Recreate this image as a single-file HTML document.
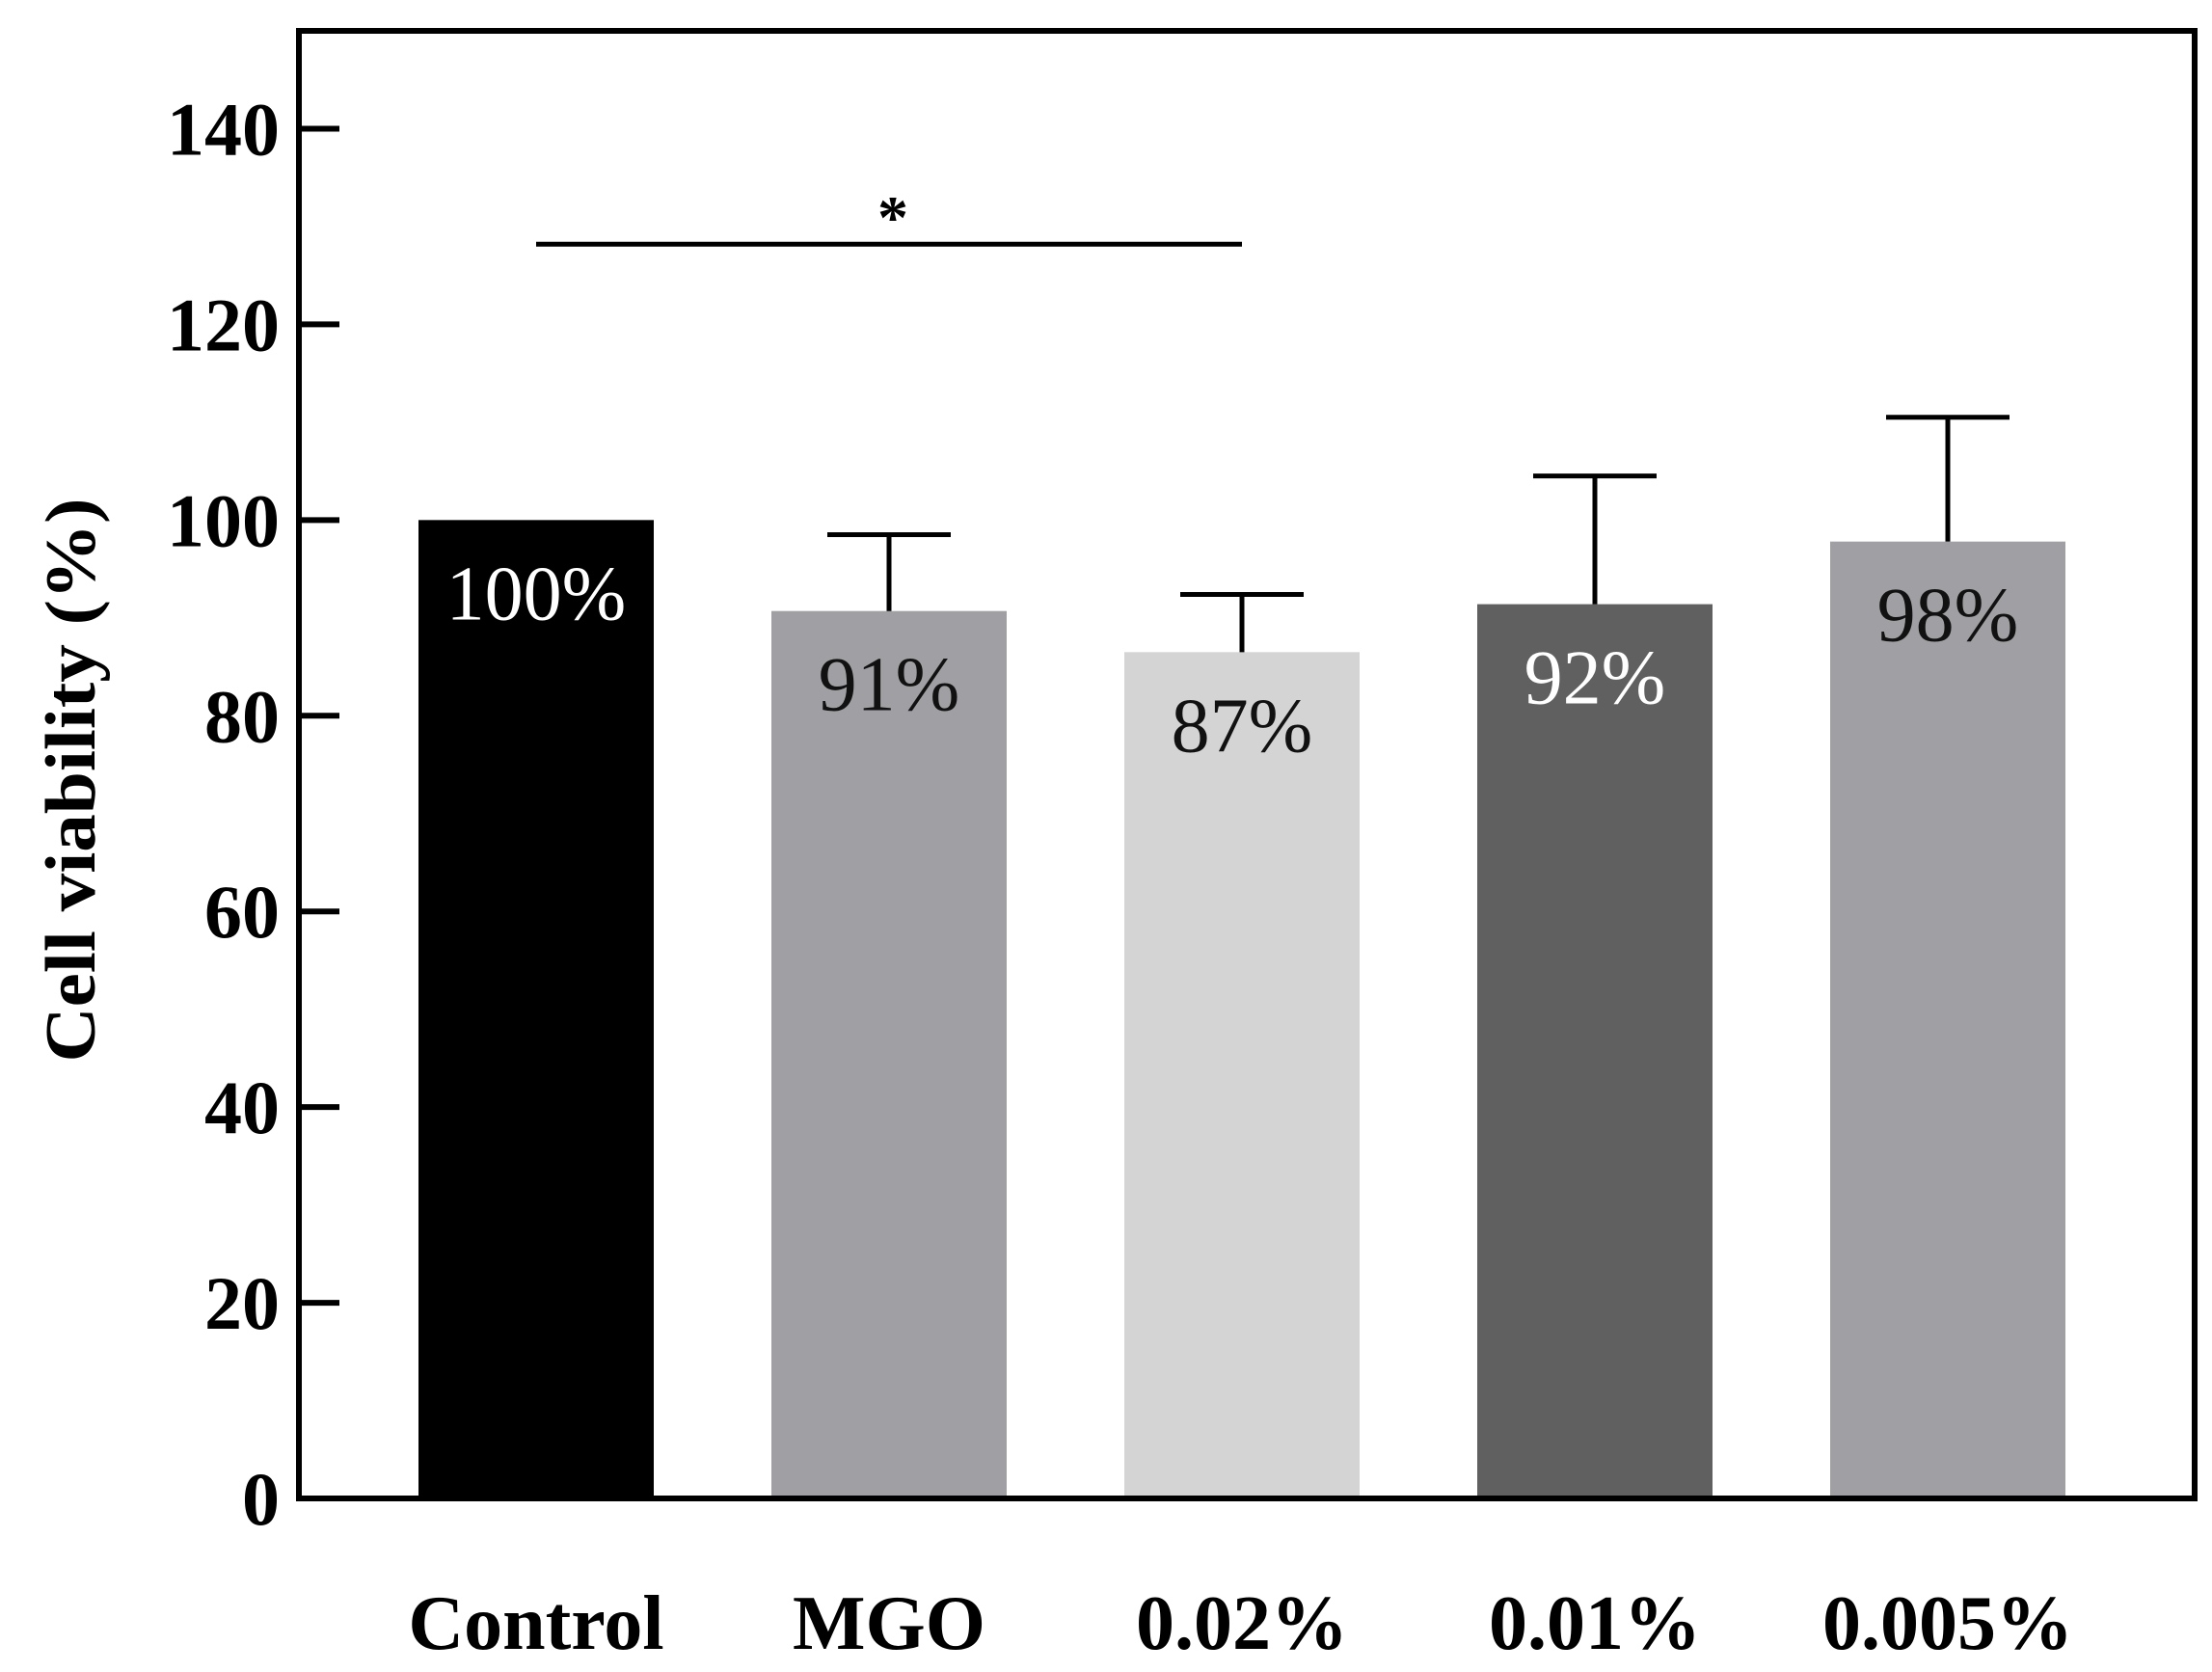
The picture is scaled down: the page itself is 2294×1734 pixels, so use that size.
<!DOCTYPE html>
<html><head><meta charset="utf-8"><style>
html,body{margin:0;padding:0;background:#fff;}
svg{display:block;font-family:"Liberation Serif","Times New Roman",serif;}
</style></head><body>
<svg id="chart" width="2294" height="1734" viewBox="0 0 2294 1734" xmlns="http://www.w3.org/2000/svg">
<rect x="0" y="0" width="2294" height="1734" fill="#fff"/>
<g id="bars"></g>
<g id="errs"></g>
<g id="yaxis"></g>
<g id="xaxis"></g>
<rect x="310" y="32" width="1966" height="1522" fill="none" stroke="#000" stroke-width="6"/>
<text transform="translate(98,809) rotate(-90)" text-anchor="middle" font-weight="bold" font-size="74" textLength="585" lengthAdjust="spacingAndGlyphs">Cell viability (%)</text>
<g id="sig"></g>
</svg>
<script>
const categories = ["Control", "MGO", "0.02%", "0.01%", "0.005%"];
const values = [100, 90.7, 86.5, 91.4, 97.8];
const errors = [0, 7.8, 5.9, 13.1, 12.7];
const valueLabels = ["100%", "91%", "87%", "92%", "98%"];
const yTicks = [0, 20, 40, 60, 80, 100, 120, 140];
const sigPair = [0, 2];
const sigValue = 128.2;

const NS = "http://www.w3.org/2000/svg";
const fills = ["#000000", "#a0a0a4", "#d4d4d4", "#606060", "#a0a0a4"];
const labelFills = ["#fff", "#111", "#111", "#fff", "#111"];
const X0 = 310, X1 = 2276, Y0 = 1554, Y1 = 32, YMAX = 150;
const firstCenter = 556, step = 366, barW = 244;
function y(v){ return Y0 - (v / YMAX) * (Y0 - Y1); }
function xc(i){ return firstCenter + i * step; }
function mk(tag, attrs, parent){
  const e = document.createElementNS(NS, tag);
  for (const k in attrs) e.setAttribute(k, attrs[k]);
  parent.appendChild(e); return e;
}
const gb = document.getElementById("bars"), ge = document.getElementById("errs"),
      gy = document.getElementById("yaxis"), gx = document.getElementById("xaxis"),
      gs = document.getElementById("sig");
categories.forEach((c, i) => {
  const r = mk("rect", {x: xc(i) - barW/2, y: y(values[i]), width: barW, height: Y0 - y(values[i]), fill: fills[i]}, gb);
  
  
  const t = mk("text", {x: xc(i), y: y(values[i]) + 103, "text-anchor": "middle", "font-size": "80", fill: labelFills[i]}, gb);
  t.textContent = valueLabels[i];
  
  
  if (errors[i] > 0) {
    const top = y(values[i] + errors[i]);
    const l = mk("line", {x1: xc(i), x2: xc(i), y1: y(values[i]), y2: top, stroke: "#000", "stroke-width": "5"}, ge);
    
    
    const cap = mk("line", {x1: xc(i) - 64, x2: xc(i) + 64, y1: top, y2: top, stroke: "#000", "stroke-width": "5"}, ge);
    
    
  }
  const xl = mk("text", {x: xc(i), y: 1710, "text-anchor": "middle", "font-size": "80", "font-weight": "bold"}, gx);
  xl.textContent = c;
  
  
});
yTicks.forEach(v => {
  const tk = mk("line", {x1: X0, x2: X0 + 42, y1: y(v), y2: y(v), stroke: "#000", "stroke-width": "6"}, gy);
  
  
  const tl = mk("text", {x: 290, y: y(v) + 27, "text-anchor": "end", "font-size": "78", "font-weight": "bold"}, gy);
  tl.textContent = v;
  
  
});
const sl = mk("line", {x1: xc(sigPair[0]), x2: xc(sigPair[1]), y1: y(sigValue), y2: y(sigValue), stroke: "#000", "stroke-width": "5"}, gs);


const st = mk("text", {x: (xc(sigPair[0]) + xc(sigPair[1])) / 2 + 4, y: y(sigValue) - 6, "text-anchor": "middle", "font-size": "64", "font-weight": "bold"}, gs);
st.textContent = "*";


</script>
</body></html>
